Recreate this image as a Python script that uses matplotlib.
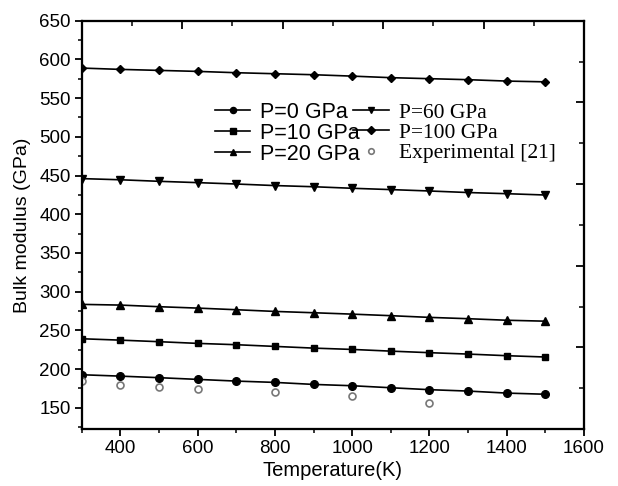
import matplotlib
matplotlib.use("Agg")
import matplotlib.pyplot as plt
from matplotlib.ticker import MultipleLocator, NullFormatter

T = [300, 400, 500, 600, 700, 800, 900, 1000, 1100, 1200, 1300, 1400, 1500]
B_p0 = [192.6, 190.8, 188.8, 186.6, 184.4, 182.7, 180.1, 178.4, 175.8, 173.3, 171.5, 168.9, 167.4]
B_p10 = [239.1, 237.3, 235.3, 233.1, 231.4, 229.2, 227.0, 225.3, 223.1, 221.1, 219.3, 217.2, 215.5]
B_p20 = [283.5, 282.6, 280.5, 278.7, 276.6, 274.4, 272.7, 270.9, 268.9, 266.7, 265.0, 263.0, 261.8]
B_p60 = [446.0, 444.5, 442.5, 440.8, 439.0, 437.0, 435.5, 433.5, 431.8, 430.0, 428.0, 426.5, 424.8]
B_p100 = [588.8, 587.1, 585.8, 584.5, 582.8, 581.5, 580.2, 578.4, 576.4, 575.1, 573.8, 572.0, 571.0]
T_exp = [300, 400, 500, 600, 800, 1000, 1200]
B_exp = [184.0, 178.8, 177.1, 173.6, 170.6, 165.5, 155.6]

sans = "Liberation Sans"
serif = "Liberation Serif"
plt.rcParams['font.family'] = [sans, 'DejaVu Sans']

fig = plt.figure(figsize=(6.18, 4.86), dpi=100)
L, R, B, Tp = 81.7 / 618, 584 / 618, 1 - 429 / 486, 1 - 20.7 / 486
ax = fig.add_axes([L, B, R - L, Tp - B])

lw = 1.2
h0, = ax.plot(T, B_p0, '-o', color='black', lw=lw, ms=5.5, label='P=0 GPa')
h10, = ax.plot(T, B_p10, '-s', color='black', lw=lw, ms=5.0, label='P=10 GPa')
h20, = ax.plot(T, B_p20, '-^', color='black', lw=lw, ms=6.0, label='P=20 GPa')
h60, = ax.plot(T, B_p60, '-v', color='black', lw=lw, ms=6.0, label='P=60 GPa')
h100, = ax.plot(T, B_p100, '-D', color='black', lw=lw, ms=4.5, label='P=100 GPa')
hexp, = ax.plot(T_exp, B_exp, 'o', mfc='white', mec='#777777', mew=1.2, ms=5.0,
                ls='none', label='Experimental [21]')

ax.set_xlim(300, 1600)
ax.set_ylim(122.5, 650)
ax.xaxis.set_minor_locator(MultipleLocator(100))
ax.yaxis.set_major_locator(MultipleLocator(50))
ax.yaxis.set_minor_locator(MultipleLocator(25))
ax.set_xticks([400, 600, 800, 1000, 1200, 1400, 1600])
ax.set_yticks([150, 200, 250, 300, 350, 400, 450, 500, 550, 600, 650])
ax.tick_params(which='major', direction='out', length=5, width=1.3, labelsize=13.5, pad=3)
ax.tick_params(which='minor', direction='out', length=3, width=1.1)
for s in ax.spines.values():
    s.set_linewidth(1.5)

ax.set_xlabel('Temperature(K)', fontsize=14.5, labelpad=3)
ax.set_ylabel('Bulk modulus (GPa)', fontsize=14, labelpad=6)

# offset mirror ticks on the top and right spines
axr = ax.twinx()
axr.set_ylim(0, 500)
axr.yaxis.set_major_locator(MultipleLocator(100))
axr.yaxis.set_minor_locator(MultipleLocator(50))
axr.yaxis.set_major_formatter(NullFormatter())
axr.tick_params(which='major', direction='in', length=6, width=1.3)
axr.tick_params(which='minor', direction='in', length=3.5, width=1.1)
axt = ax.twiny()
axt.set_xlim(0, 500)
axt.xaxis.set_major_locator(MultipleLocator(100))
axt.xaxis.set_minor_locator(MultipleLocator(50))
axt.xaxis.set_major_formatter(NullFormatter())
axt.tick_params(which='major', direction='in', length=6, width=1.3)
axt.tick_params(which='minor', direction='in', length=3.5, width=1.1)
for a in (axr, axt):
    for s in a.spines.values():
        s.set_linewidth(1.5)

handles = [h0, h10, h20, h60, h100, hexp]
leg = ax.legend(handles=handles, ncol=2, frameon=False, fontsize=15.5,
                loc='upper left', bbox_to_anchor=(0.265, 0.801),
                handlelength=1.65, handletextpad=0.45, columnspacing=-0.3,
                labelspacing=0.0, borderaxespad=0, borderpad=0, markerscale=0.8)
texts = leg.get_texts()
for i, t in enumerate(texts):
    t.set_fontfamily(sans if i < 3 else serif)
    t.set_fontsize(15.5)

fig.savefig('out.png', dpi=100)
